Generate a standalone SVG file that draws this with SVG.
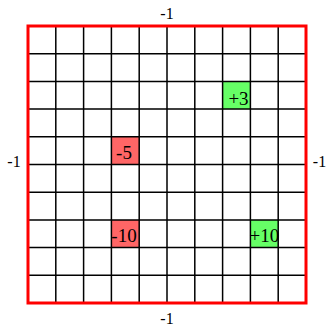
<svg xmlns="http://www.w3.org/2000/svg" width="326" height="325" viewBox="0 0 326 325">
<style>
.t{font-family:"Liberation Serif","Times New Roman",serif;font-size:16px;fill:#000;text-anchor:middle}
.c{font-size:19px}
.g{stroke:#000;stroke-width:1.5;fill:none}
.pos{fill:#66ff66}
.neg{fill:#ff6666}
</style>
<rect width="326" height="325" fill="#fff"/>
<g id="cell-plus3"><rect class="pos" x="222.6" y="81.4" width="27.8" height="27.7"/><text class="t c" x="238.5" y="104.7">+3</text></g>
<g id="cell-minus5"><rect class="neg" x="111.4" y="136.8" width="27.8" height="27.7"/><text class="t c" x="124" y="158.5">-5</text></g>
<g id="cell-minus10"><rect class="neg" x="111.4" y="219.9" width="27.8" height="27.7"/><text class="t c" x="124" y="241.8">-10</text></g>
<g id="cell-plus10"><rect class="pos" x="250.4" y="219.9" width="27.8" height="27.7"/><text class="t c" x="264.3" y="241.8">+10</text></g>
<g id="grid" class="g">
<path d="M55.8 26V303M83.6 26V303M111.4 26V303M139.2 26V303M167 26V303M194.8 26V303M222.6 26V303M250.4 26V303M278.2 26V303"/>
<path d="M28 53.7H306M28 81.4H306M28 109.1H306M28 136.8H306M28 164.5H306M28 192.2H306M28 219.9H306M28 247.6H306M28 275.3H306"/>
</g>
<g id="border"><rect x="28" y="26" width="278" height="277" fill="none" stroke="#ff0000" stroke-width="3"/></g>
<g id="labels">
<text class="t" x="167" y="19.3">-1</text>
<text class="t" x="14" y="167">-1</text>
<text class="t" x="319.5" y="167">-1</text>
<text class="t" x="167" y="323.5">-1</text>
</g>
</svg>
